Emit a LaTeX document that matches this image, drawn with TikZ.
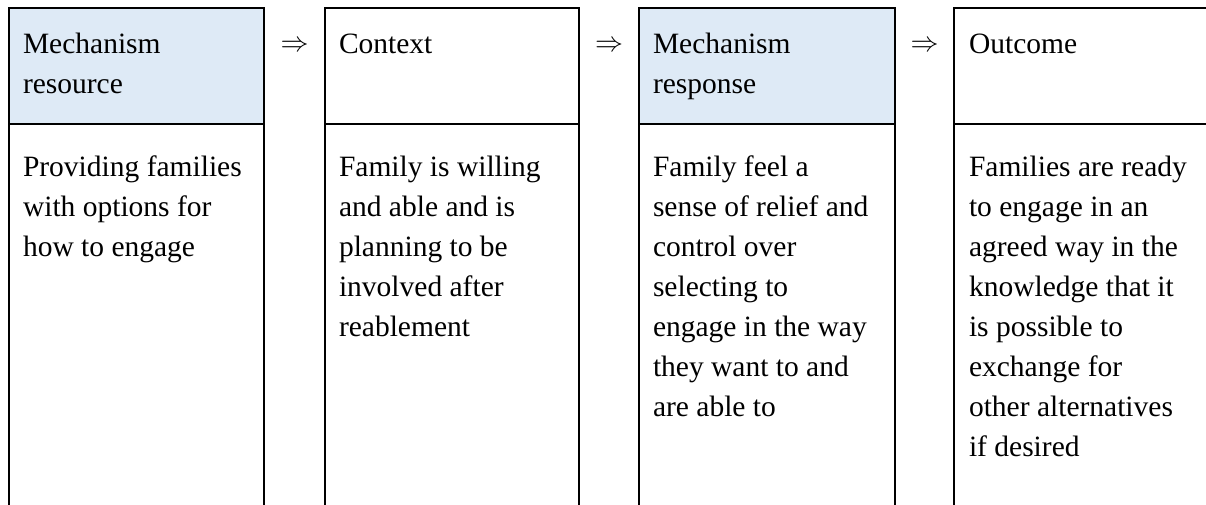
\documentclass[tikz,border=0pt]{standalone}
\usepackage{fontspec}
\setmainfont{Liberation Serif}
\definecolor{headblue}{RGB}{222,234,246}
\tikzset{
  x=1pt, y=-1pt,
  frame/.style={draw=black, line width=2.8pt},
  headfill/.style={fill=headblue},
  celltext/.style={anchor=base west, inner sep=0pt, outer sep=0pt},
  flowarrow/.style={inner sep=0pt},
}
\newcommand{\celltxt}[1]{\parbox[t]{236pt}{\fontsize{29.5}{40}\selectfont\raggedright #1}}
\newcommand{\implies}{\resizebox{28pt}{!}{$\Rightarrow$}}
\begin{document}
\begin{tikzpicture}
\useasboundingbox (0,0) rectangle (1206,504);
\clip (0,0) rectangle (1206,504);

% header backgrounds of the two mechanism columns
\fill[headfill] (9,8) rectangle (264,124);
\fill[headfill] (639,8) rectangle (895,124);

% column frames (they continue below the lower edge)
\foreach \xl/\xr in {9/264, 325/579, 639/895, 954/1210}{
  \draw[frame] (\xl,530) -- (\xl,8) -- (\xr,8) -- (\xr,530);
  \draw[frame] (\xl,124) -- (\xr,124);
}

% headings
\node[celltext] (h1) at (23,53)  {\celltxt{Mechanism\\resource}};
\node[celltext] (h2) at (339,53) {\celltxt{Context}};
\node[celltext] (h3) at (653,53) {\celltxt{Mechanism\\response}};
\node[celltext] (h4) at (969,53) {\celltxt{Outcome}};

% bodies
\node[celltext] (b1) at (23,176)  {\celltxt{Providing families\\with options for\\how to engage}};
\node[celltext] (b2) at (339,176) {\celltxt{Family is willing\\and able and is\\planning to be\\involved after\\reablement}};
\node[celltext] (b3) at (653,176) {\celltxt{Family feel a\\sense of relief and\\control over\\selecting to\\engage in the way\\they want to and\\are able to}};
\node[celltext] (b4) at (969,176) {\celltxt{Families are ready\\to engage in an\\agreed way in the\\knowledge that it\\is possible to\\exchange for\\other alternatives\\if desired}};

% implication arrows between the columns
\node[flowarrow] (a1) at (294.5,46) {\implies};
\node[flowarrow] (a2) at (609,46)   {\implies};
\node[flowarrow] (a3) at (924.5,46) {\implies};
\end{tikzpicture}
\end{document}
